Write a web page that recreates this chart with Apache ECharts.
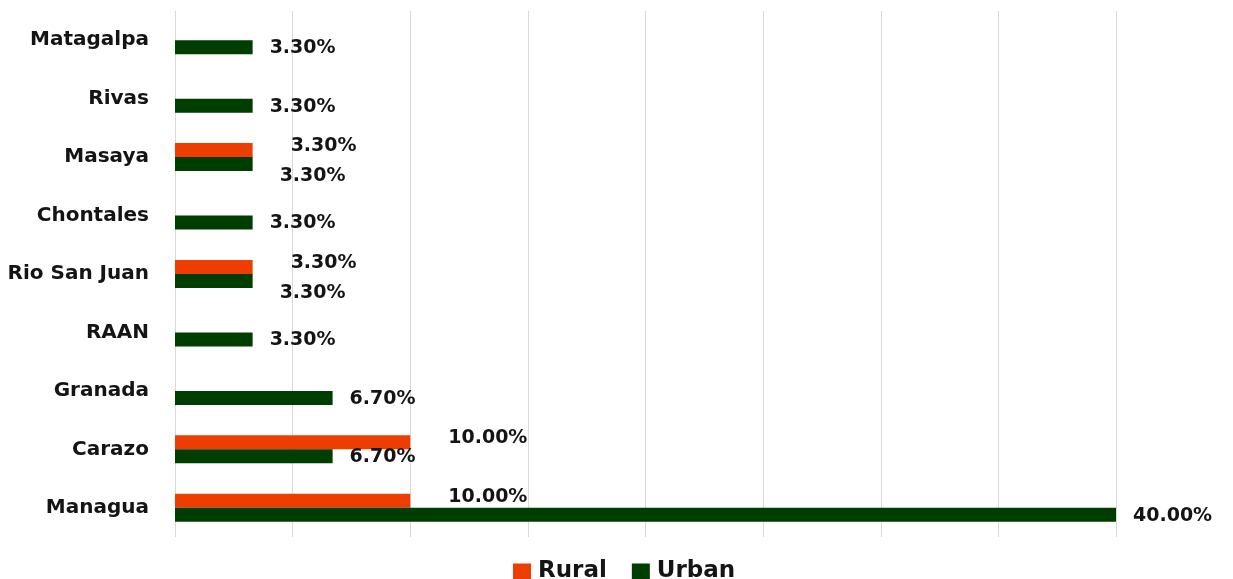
<!DOCTYPE html>
<html><head><meta charset="utf-8">
<script src="https://cdn.jsdelivr.net/npm/echarts@6/dist/echarts.min.js"></script>
<style>html,body{margin:0;padding:0;background:#fff}#c{width:1233px;height:579px}</style>
</head><body><div id="c"></div>
<script>
const categories = ['Managua','Carazo','Granada','RAAN','Rio San Juan','Chontales','Masaya','Rivas','Matagalpa'];
const rural = [10, 10, null, null, 3.3, null, 3.3, null, null];
const urban = [40, 6.7, 6.7, 3.3, 3.3, 3.3, 3.3, 3.3, 3.3];
const seriesNames = ['Rural', 'Urban'];

const FONT = 'DejaVu Sans';
const TXT = '#141414';
const fmt = p => Number(p.value).toFixed(2) + '%';

const ruralData = rural.map(v => v == null ? '-' : v);
const urbanData = urban.map((v, i) => {
  // when both labels would collide, Excel pushes the urban label down
  if (rural[i] != null && rural[i] === v) {
    return { value: v, label: { offset: [10, 12] } };
  }
  return v;
});

const chart = echarts.init(document.getElementById('c'), null, {renderer: 'canvas'});
chart.setOption({
  animation: false,
  textStyle: { fontFamily: FONT },
  grid: { left: 175, right: 117, top: 11, height: 526 },
  legend: {
    data: seriesNames, left: 508, top: 555, itemWidth: 18, itemHeight: 16, itemGap: 25,
    icon: 'rect',
    textStyle: { fontFamily: FONT, fontSize: 23, fontWeight: 'bold', color: TXT, padding: [0,0,0,2] }
  },
  xAxis: {
    type: 'value', min: 0, max: 40, interval: 5,
    axisLine: { show: false }, axisTick: { show: false }, axisLabel: { show: false },
    splitLine: { show: true, lineStyle: { color: '#d9d9d9', width: 1 } }
  },
  yAxis: {
    type: 'category', data: categories,
    axisLine: { show: false }, axisTick: { show: false },
    axisLabel: { fontFamily: FONT, fontSize: 20, fontWeight: 'bold', color: TXT, margin: 26 }
  },
  series: [
    {
      name: 'Rural', type: 'bar', data: ruralData, barWidth: 14, barGap: '0%',
      itemStyle: { color: '#EE3D00' },
      label: { show: true, position: 'right', distance: 38, offset: [0, -4], formatter: fmt,
        fontFamily: FONT, fontSize: 19, fontWeight: 'bold', color: TXT }
    },
    {
      name: 'Urban', type: 'bar', data: urbanData, barWidth: 14,
      itemStyle: { color: '#003D00' },
      label: { show: true, position: 'right', distance: 17, offset: [0, 1], formatter: fmt,
        fontFamily: FONT, fontSize: 19, fontWeight: 'bold', color: TXT }
    }
  ]
});
</script></body></html>
